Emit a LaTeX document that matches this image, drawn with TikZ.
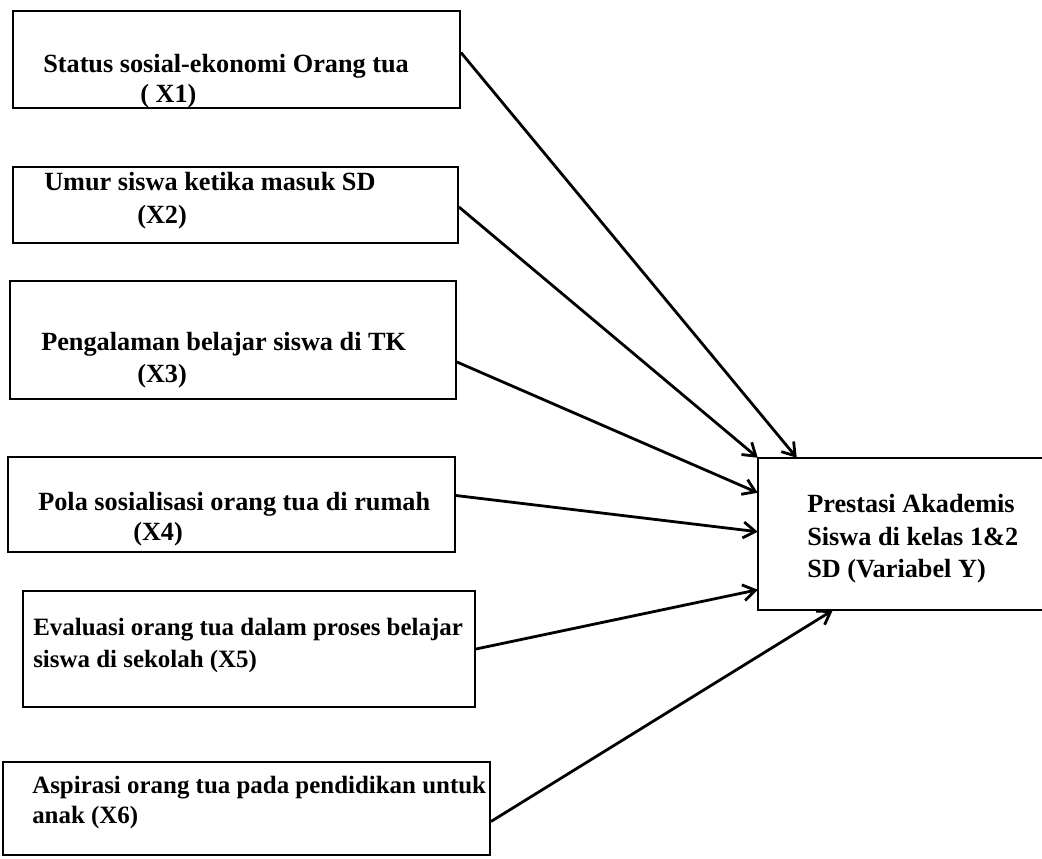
\documentclass[tikz,border=0pt]{standalone}
\usepackage{fontspec}
\setmainfont{Liberation Serif}
\usetikzlibrary{arrows.meta,calc,fit}
\begin{document}
\begin{tikzpicture}[x=0.75pt,y=-0.75pt,
  box/.style={draw=black,line width=1.4pt,inner sep=0pt},
  txt/.style={anchor=base west,inner sep=0pt,font=\fontsize{19.7}{24}\selectfont\bfseries},
  txts/.style={txt,font=\fontsize{18.7}{23}\selectfont\bfseries},
  link/.style={line width=2.1pt,-{Straight Barb[length=9pt,width=12pt,line width=2.1pt]}}]
\useasboundingbox (0,0) rectangle (1042,858);

% boxes
\node[box,fit={(13,11) (460,108)}] (X1) {};
\node[box,fit={(13,167) (458,243)}] (X2) {};
\node[box,fit={(10,281) (456,399)}] (X3) {};
\node[box,fit={(8,457) (455,552)}] (X4) {};
\node[box,fit={(23,591) (475,707)}] (X5) {};
\node[box,fit={(3,762) (490,855)}] (X6) {};
\node[inner sep=0pt,fit={(758,458) (1042,610)}] (Y) {};
\draw[line width=1.4pt] (Y.north east) -- (Y.north west) -- (Y.south west) -- (Y.south east);

% texts
\node[txt] (t1a) at (43,72) {Status sosial-ekonomi Orang tua};
\node[txt] (t1b) at (140,102) {( X1)};
\node[txt] (t2a) at (44,190) {Umur siswa ketika masuk SD};
\node[txt] (t2b) at (137,223) {(X2)};
\node[txt] (t3a) at (41,350) {Pengalaman belajar siswa di TK};
\node[txt] (t3b) at (137,382) {(X3)};
\node[txt] (t4a) at (38,510) {Pola sosialisasi orang tua di rumah};
\node[txt] (t4b) at (133,540) {(X4)};
\node[txts] (t5a) at (33,635) {Evaluasi orang tua dalam proses belajar};
\node[txts] (t5b) at (33,667) {siswa di sekolah (X5)};
\node[txts] (t6a) at (32,793) {Aspirasi orang tua pada pendidikan untuk};
\node[txts] (t6b) at (32,823) {anak (X6)};
\node[txt] (tya) at (807,512) {Prestasi Akademis};
\node[txt] (tyb) at (807,545) {Siswa di kelas 1\&2};
\node[txt] (tyc) at (807,577) {SD (Variabel Y)};

% connectors
\draw[link] ($(X1.east)+(0,-7)$) -- ($(Y.north west)+(39,0)$);
\draw[link] ($(X2.east)+(0,2)$) -- (Y.north west);
\draw[link] ($(X3.east)+(0,22)$) -- ($(Y.north west)+(0,35)$);
\draw[link] ($(X4.east)+(0,-9)$) -- ($(Y.north west)+(0,74)$);
\draw[link] (X5.east) -- ($(Y.north west)+(0,132)$);
\draw[link] ($(X6.east)+(0,13)$) -- ($(Y.south west)+(75,0)$);
\end{tikzpicture}
\end{document}
